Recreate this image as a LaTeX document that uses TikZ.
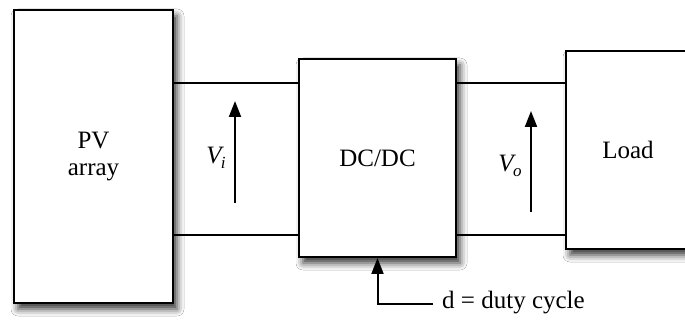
\documentclass[tikz,border=0pt]{standalone}
\usepackage{fontspec}
\setmainfont{Liberation Serif}
\usetikzlibrary{arrows.meta,shadows.blur}
\tikzset{
  blk/.style={draw=black, line width=2pt, fill=white, inner sep=0pt,
    blur shadow={shadow xshift=4pt, shadow yshift=-6pt, shadow blur radius=7pt, shadow opacity=80},
    font=\fontsize{25}{27}\selectfont, align=center},
  wire/.style={line width=1.7pt},
  arr/.style={line width=2pt, -{Triangle[length=16pt,width=12pt]}},
  lbl/.style={font=\fontsize{25}{27}\selectfont, inner sep=0pt}
}
\begin{document}
\begin{tikzpicture}[x=1pt,y=-1pt]
\clip (0,0) rectangle (685,320);
\fill[white] (0,0) rectangle (685,320);
\node[blk, minimum width=159pt, minimum height=293pt] (PV) at (93.5,156.5) {PV\\[0pt]array};
\node[blk, minimum width=157pt, minimum height=198pt] (DC) at (377.5,158) {DC/DC};
\node[blk, minimum width=124pt, minimum height=198pt] (LD) at (628,150) {Load};
\coordinate (t) at (0,83);
\coordinate (b) at (0,235);
\draw[wire] (PV.east |- t) -- (DC.west |- t);
\draw[wire] (PV.east |- b) -- (DC.west |- b);
\draw[wire] (DC.east |- t) -- (LD.west |- t);
\draw[wire] (DC.east |- b) -- (LD.west |- b);
% Vi
\coordinate (vib) at (235,203);
\coordinate (vit) at (235,101);
\draw[arr] (vib) -- (vit);
\node[lbl] (vi) at (216,158) {\textit{V}\kern-3pt\raisebox{-5pt}{\fontsize{17}{17}\selectfont\textit{i}}};
% Vo
\coordinate (vob) at (531,212);
\coordinate (vot) at (531,111);
\draw[arr] (vob) -- (vot);
\node[lbl] (vo) at (510,166) {\textit{V}\kern-3pt\raisebox{-5pt}{\fontsize{17}{17}\selectfont\textit{o}}};
% duty cycle
\node[lbl, anchor=west] (dlab) at (442,303) {d = duty cycle};
\coordinate (dstart) at (433,304);
\draw[arr] (dstart) -| (DC.south);
\end{tikzpicture}
\end{document}
